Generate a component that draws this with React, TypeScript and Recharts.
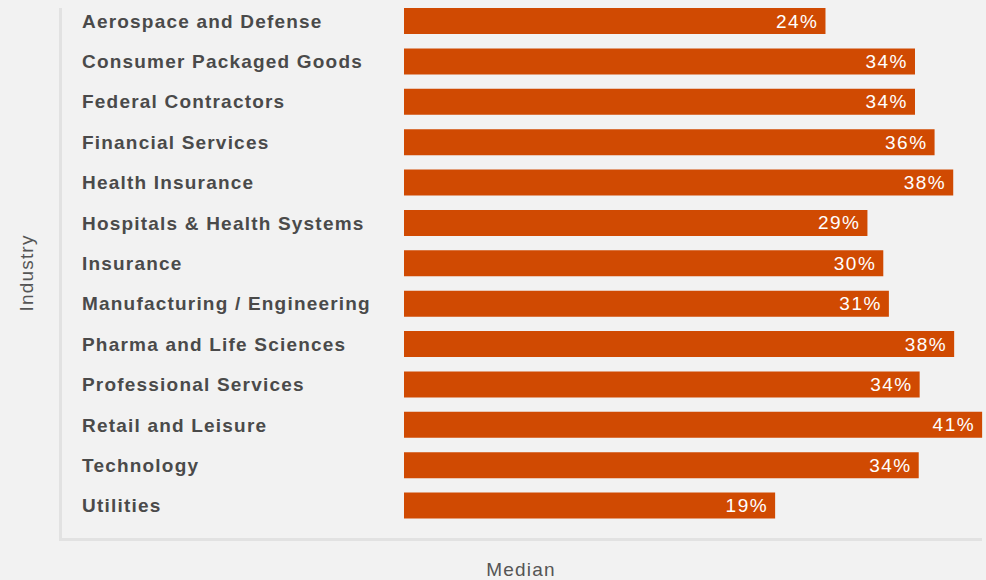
import React from "react";
import { BarChart, Bar, XAxis, YAxis, Cell } from "recharts";

const industries = [
  "Aerospace and Defense",
  "Consumer Packaged Goods",
  "Federal Contractors",
  "Financial Services",
  "Health Insurance",
  "Hospitals & Health Systems",
  "Insurance",
  "Manufacturing / Engineering",
  "Pharma and Life Sciences",
  "Professional Services",
  "Retail and Leisure",
  "Technology",
  "Utilities",
];

const medians = [24.2, 33.8, 33.8, 35.9, 37.9, 28.7, 30.4, 31.0, 38.0, 34.3, 41.0, 34.2, 18.8];

// axis range; bars are drawn from the axis minimum
const AXIS_MIN = -21;
const AXIS_MAX = 41.2;

const ORANGE = "#d04a02";
const BG = "#f2f2f2";
const FONT = "'Liberation Sans', Arial, Helvetica, sans-serif";

const data = industries.map((name, i) => ({ name, median: medians[i] }));

const renderTick = (props: any) => {
  const { y, payload } = props;
  return (
    <text
      x={82}
      y={y}
      textAnchor="start"
      dominantBaseline="central"
      fontFamily={FONT}
      fontSize={19}
      fontWeight={700}
      letterSpacing={1.2}
      fill="#4a4a4a"
    >
      {payload.value}
    </text>
  );
};

const renderValue = (props: any) => {
  const { x, y, width, height, index } = props;
  return (
    <text
      x={x + width - 7}
      y={y + height / 2}
      textAnchor="end"
      dominantBaseline="central"
      fontFamily={FONT}
      fontSize={19}
      letterSpacing={1.5}
      fill="#ffffff"
    >
      {`${Math.round(medians[index])}%`}
    </text>
  );
};

export default function App() {
  return (
    <div
      style={{
        position: "absolute",
        left: 0,
        top: 0,
        width: 986,
        height: 580,
        background: BG,
        fontFamily: FONT,
        overflow: "hidden",
      }}
    >
      <div
        style={{
          position: "absolute",
          left: 59,
          top: 8,
          width: 3,
          height: 533,
          background: "#e2e2e2",
        }}
      />
      <div
        style={{
          position: "absolute",
          left: 59,
          top: 538,
          width: 923,
          height: 3,
          background: "#e2e2e2",
        }}
      />
      <div
        style={{
          position: "absolute",
          left: 27,
          top: 273,
          transform: "translate(-50%, -50%) rotate(-90deg)",
          fontSize: 19,
          letterSpacing: 1.2,
          color: "#555555",
          whiteSpace: "nowrap",
        }}
      >
        Industry
      </div>
      <div
        style={{
          position: "absolute",
          left: 521,
          top: 570,
          transform: "translate(-50%, -50%)",
          fontSize: 19,
          letterSpacing: 1.2,
          color: "#555555",
          whiteSpace: "nowrap",
        }}
      >
        Median
      </div>
      <div style={{ position: "absolute", left: 0, top: 0 }}>
        <BarChart
          width={986}
          height={580}
          data={data}
          layout="vertical"
          margin={{ top: 1, right: 2, bottom: 54, left: 0 }}
        >
          <XAxis type="number" domain={[AXIS_MIN, AXIS_MAX]} hide />
          <YAxis
            type="category"
            dataKey="name"
            width={404}
            axisLine={false}
            tickLine={false}
            tick={renderTick}
            interval={0}
          />
          <Bar
            dataKey={(d: any) => [AXIS_MIN, d.median]}
            barSize={26}
            fill={ORANGE}
            isAnimationActive={false}
            label={renderValue}
          >
            {data.map((_, i) => (
              <Cell key={`c-${i}`} fill={ORANGE} />
            ))}
          </Bar>
        </BarChart>
      </div>
    </div>
  );
}
